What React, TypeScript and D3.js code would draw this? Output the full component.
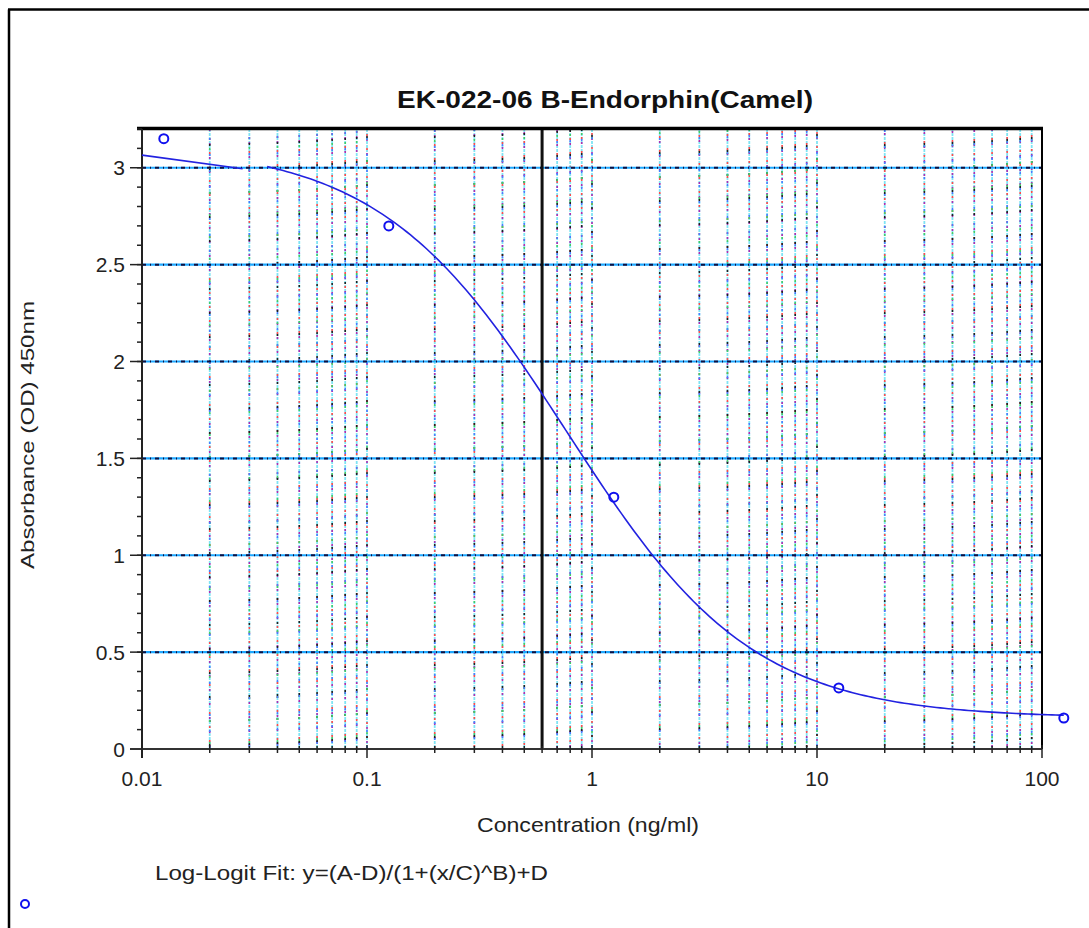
import React from "react";
import * as d3 from "d3";

// ---- data ----
const concentrations = [0.0125, 0.125, 1.25, 12.5, 125];
const absorbances = [3.15, 2.7, 1.3, 0.315, 0.16];

// 4PL (log-logit) fit parameters
const fitA = 3.12;
const fitB = 1.05;
const fitC = 0.77;
const fitD = 0.16;
const fitStart = 0.036;
const fitEnd = 125;
const fitSamples = 200;

// short flat head segment of the plotted curve
const headX = [0.01, 0.028];
const headY = [3.065, 2.995];

const markerX = 0.6;

const xMajorTicks = [0.01, 0.1, 1, 10, 100];
const xMajorLabels = ["0.01", "0.1", "1", "10", "100"];
const yMajorTicks = [0, 0.5, 1, 1.5, 2, 2.5, 3];
const yMajorLabels = ["0", "0.5", "1", "1.5", "2", "2.5", "3"];

const title = "EK-022-06 B-Endorphin(Camel)";
const xTitle = "Concentration (ng/ml)";
const yTitle = "Absorbance (OD) 450nm";
const fitText = "Log-Logit Fit: y=(A-D)/(1+(x/C)^B)+D";

const W = 1089;
const H = 928;
const plot = { left: 142, right: 1042, top: 129, bottom: 749 };
const FONT = "'Liberation Sans', Arial, sans-serif";

export default function App() {
  const x = d3.scaleLog().domain([0.01, 100]).range([plot.left, plot.right]);
  const y = d3.scaleLinear().domain([0, 3.2]).range([plot.bottom, plot.top]);

  const xMinor: number[] = [];
  for (let e = -2; e <= 1; e++) {
    for (let m = 2; m <= 9; m++) xMinor.push(+(m * Math.pow(10, e)).toPrecision(3));
  }
  const yMinor: number[] = d3.range(0, 33).map((i) => +(i * 0.1).toFixed(1));

  const gridX = [...xMinor, 0.1, 1, 10];
  const gridY = yMajorTicks.filter((v) => v > 0);

  const fitFn = (c: number) => (fitA - fitD) / (1 + Math.pow(c / fitC, fitB)) + fitD;
  const logS = Math.log10(fitStart);
  const logE = Math.log10(fitEnd);
  const fitPts: [number, number][] = d3.range(fitSamples + 1).map((i) => {
    const c = Math.pow(10, logS + ((logE - logS) * i) / fitSamples);
    return [c, fitFn(c)];
  });
  const line = d3
    .line<[number, number]>()
    .x((d) => x(d[0]))
    .y((d) => y(d[1]));
  const headPts: [number, number][] = headX.map((v, i) => [v, headY[i]]);

  const vColors = [
    { c: "#b02cb0", dash: "2 12", off: 0 },
    { c: "#ff4a4a", dash: "2 12", off: 5 },
    { c: "#222222", dash: "2 22", off: 9 },
    { c: "#44cc66", dash: "2 20", off: 3 },
    { c: "#4a7cff", dash: "2 14", off: 7 },
  ];

  return (
    <svg
      width={W}
      height={H}
      style={{ position: "absolute", left: 0, top: 0, background: "#fff" }}
      fontFamily={FONT}
    >
      <rect x={0} y={0} width={W} height={H} fill="#fff" />
      {/* outer frame (left + top) */}
      <line x1={9} y1={9.5} x2={9} y2={H} stroke="#000" strokeWidth={2.5} />
      <line x1={8} y1={9.5} x2={W} y2={9.5} stroke="#000" strokeWidth={2.5} />

      {/* vertical grid */}
      {gridX.map((v, i) => (
        <g key={"gx" + i}>
          <line x1={x(v)} x2={x(v)} y1={plot.top} y2={plot.bottom} stroke="#7fe4f4" strokeWidth={1.8} strokeDasharray="3 1" />
          {vColors.map((s, j) => (
            <line
              key={j}
              x1={x(v)}
              x2={x(v)}
              y1={plot.top}
              y2={plot.bottom}
              stroke={s.c}
              strokeWidth={1.6}
              strokeDasharray={s.dash}
              strokeDashoffset={s.off + i}
            />
          ))}
        </g>
      ))}

      {/* horizontal grid */}
      {gridY.map((v, i) => (
        <g key={"gy" + i}>
          <line x1={plot.left} x2={plot.right} y1={y(v)} y2={y(v)} stroke="#1ea8ff" strokeWidth={2.2} />
          <line x1={plot.left} x2={plot.right} y1={y(v)} y2={y(v)} stroke="#101040" strokeWidth={2} strokeDasharray="4 4 1 4" />
        </g>
      ))}

      {/* thick marker line */}
      <line x1={x(markerX)} x2={x(markerX)} y1={plot.top} y2={plot.bottom} stroke="#111" strokeWidth={3} />

      {/* frame: top and right */}
      <line x1={137} x2={plot.right + 1} y1={plot.top - 0.5} y2={plot.top - 0.5} stroke="#000" strokeWidth={3.5} />
      <line x1={plot.right} x2={plot.right} y1={plot.top} y2={plot.bottom} stroke="#000" strokeWidth={2} />

      {/* y axis */}
      <line x1={plot.left} x2={plot.left} y1={plot.top} y2={plot.bottom + 9} stroke="#222" strokeWidth={2} />
      {yMinor.map((v, i) => (
        <line key={"ym" + i} x1={plot.left - 5} x2={plot.left} y1={y(v)} y2={y(v)} stroke="#222" strokeWidth={1.5} />
      ))}
      {yMajorTicks.map((v, i) => (
        <g key={"yM" + i}>
          <line x1={plot.left - 12} x2={plot.left} y1={y(v)} y2={y(v)} stroke="#222" strokeWidth={1.5} />
          <text x={125} y={y(v)} dy="0.36em" textAnchor="end" fontSize={21} fill="#222">
            {yMajorLabels[i]}
          </text>
        </g>
      ))}

      {/* x axis */}
      <line x1={plot.left - 12} x2={plot.right} y1={plot.bottom} y2={plot.bottom} stroke="#333" strokeWidth={2} />
      {xMinor.map((v, i) => (
        <line key={"xm" + i} x1={x(v)} x2={x(v)} y1={plot.bottom - 3} y2={plot.bottom + 4} stroke="#222" strokeWidth={1.5} />
      ))}
      {xMajorTicks.map((v, i) => (
        <g key={"xM" + i}>
          <line x1={x(v)} x2={x(v)} y1={plot.bottom - 4} y2={plot.bottom + 9} stroke="#222" strokeWidth={1.5} />
          <text x={x(v)} y={786} textAnchor="middle" fontSize={21} fill="#222">
            {xMajorLabels[i]}
          </text>
        </g>
      ))}

      {/* curve */}
      <path d={line(headPts) || ""} fill="none" stroke="#2222e0" strokeWidth={1.6} />
      <path d={line(fitPts) || ""} fill="none" stroke="#2222e0" strokeWidth={1.6} />

      {/* points */}
      {concentrations.map((c, i) => (
        <circle key={"p" + i} cx={x(c)} cy={y(absorbances[i])} r={4.5} fill="none" stroke="#1010ee" strokeWidth={2} />
      ))}

      {/* titles */}
      <text x={605} y={108} textAnchor="middle" fontSize={23} fontWeight="bold" fill="#111" textLength={416} lengthAdjust="spacingAndGlyphs">
        {title}
      </text>
      <text x={588} y={832} textAnchor="middle" fontSize={21} fill="#222" textLength={222} lengthAdjust="spacingAndGlyphs">
        {xTitle}
      </text>
      <text
        transform={`translate(34,435) rotate(-90)`}
        textAnchor="middle"
        fontSize={18}
        fill="#222"
        textLength={268}
        lengthAdjust="spacingAndGlyphs"
      >
        {yTitle}
      </text>
      <text x={155} y={880} fontSize={20} fill="#222" textLength={393} lengthAdjust="spacingAndGlyphs">
        {fitText}
      </text>

      {/* legend marker */}
      <circle cx={25} cy={904} r={4} fill="none" stroke="#1010ee" strokeWidth={2} />
    </svg>
  );
}
